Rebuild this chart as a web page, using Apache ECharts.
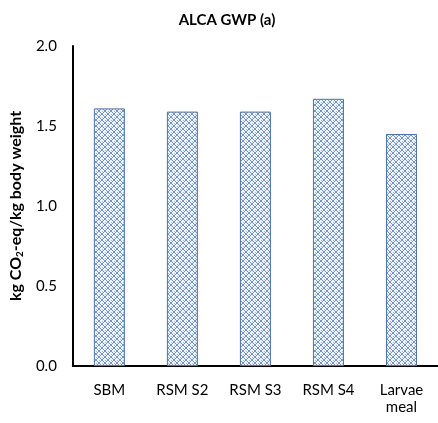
<!DOCTYPE html>
<html>
<head>
<meta charset="utf-8">
<script src="https://cdn.jsdelivr.net/npm/echarts@6/dist/echarts.min.js"></script>
<style>
  html, body { margin: 0; padding: 0; background: #fff; }
  #chart { width: 438px; height: 423px; }
</style>
</head>
<body>
<div id="chart"></div>
<script>
  // data
  const categories = ['SBM', 'RSM S2', 'RSM S3', 'RSM S4', 'Larvae\nmeal'];
  const gwpValues = [1.61, 1.59, 1.59, 1.67, 1.45];
  const yTicks = { min: 0, max: 2, interval: 0.5 };

  // small crosshatch tile like the excel fill
  function hatchPattern() {
    const n = 6;
    const c = document.createElement('canvas');
    c.width = n; c.height = n;
    const g = c.getContext('2d');
    g.fillStyle = '#eef2f9';
    g.fillRect(0, 0, n, n);
    g.fillStyle = '#7494c4';
    for (let i = 0; i < n; i++) {
      g.fillRect(i, i, 1, 1);
      g.fillRect(n - 1 - i, i, 1, 1);
    }
    g.fillStyle = '#a9bddc';
    g.fillRect(3, 0, 1, 1);
    g.fillRect(0, 3, 1, 1);
    return c;
  }

  const font = 'Lato, sans-serif';
  const myChart = echarts.init(document.getElementById('chart'));
  myChart.setOption({
    animation: false,
    textStyle: { fontFamily: font },
    title: {
      text: 'ALCA GWP (a)',
      left: 222,
      textAlign: 'center',
      top: 8,
      textStyle: { fontSize: 15, fontWeight: 'bold', color: '#000', fontFamily: font }
    },
    grid: { left: 71, top: 46, width: 370, height: 320, containLabel: false },
    xAxis: {
      type: 'category',
      data: categories,
      axisLine: { lineStyle: { color: '#000', width: 2 } },
      axisTick: { show: false },
      axisLabel: { color: '#000', fontSize: 15, fontFamily: font, margin: 16, lineHeight: 17, interval: 0 }
    },
    yAxis: {
      type: 'value',
      min: yTicks.min,
      max: yTicks.max,
      interval: yTicks.interval,
      axisLine: { show: true, lineStyle: { color: '#000', width: 2 } },
      axisTick: { show: false },
      splitLine: { show: false },
      axisLabel: { color: '#000', fontSize: 15, fontFamily: font, margin: 16, formatter: v => v.toFixed(1) },
      name: '{a|kg CO}{s|2}{a|-eq/kg body weight}',
      nameLocation: 'middle',
      nameGap: 46,
      nameRotate: 90,
      nameTextStyle: {
        rich: {
          a: { fontSize: 16, fontWeight: 'bold', color: '#000', fontFamily: font },
          s: { fontSize: 10, fontWeight: 'bold', color: '#000', fontFamily: font, padding: [8, 0, 0, 0] }
        }
      }
    },
    series: [{
      type: 'bar',
      data: gwpValues,
      barWidth: 31,
      itemStyle: {
        color: { image: hatchPattern(), repeat: 'repeat' },
        borderColor: '#4f72a8',
        borderWidth: 1
      }
    }]
  });
</script>
</body>
</html>
